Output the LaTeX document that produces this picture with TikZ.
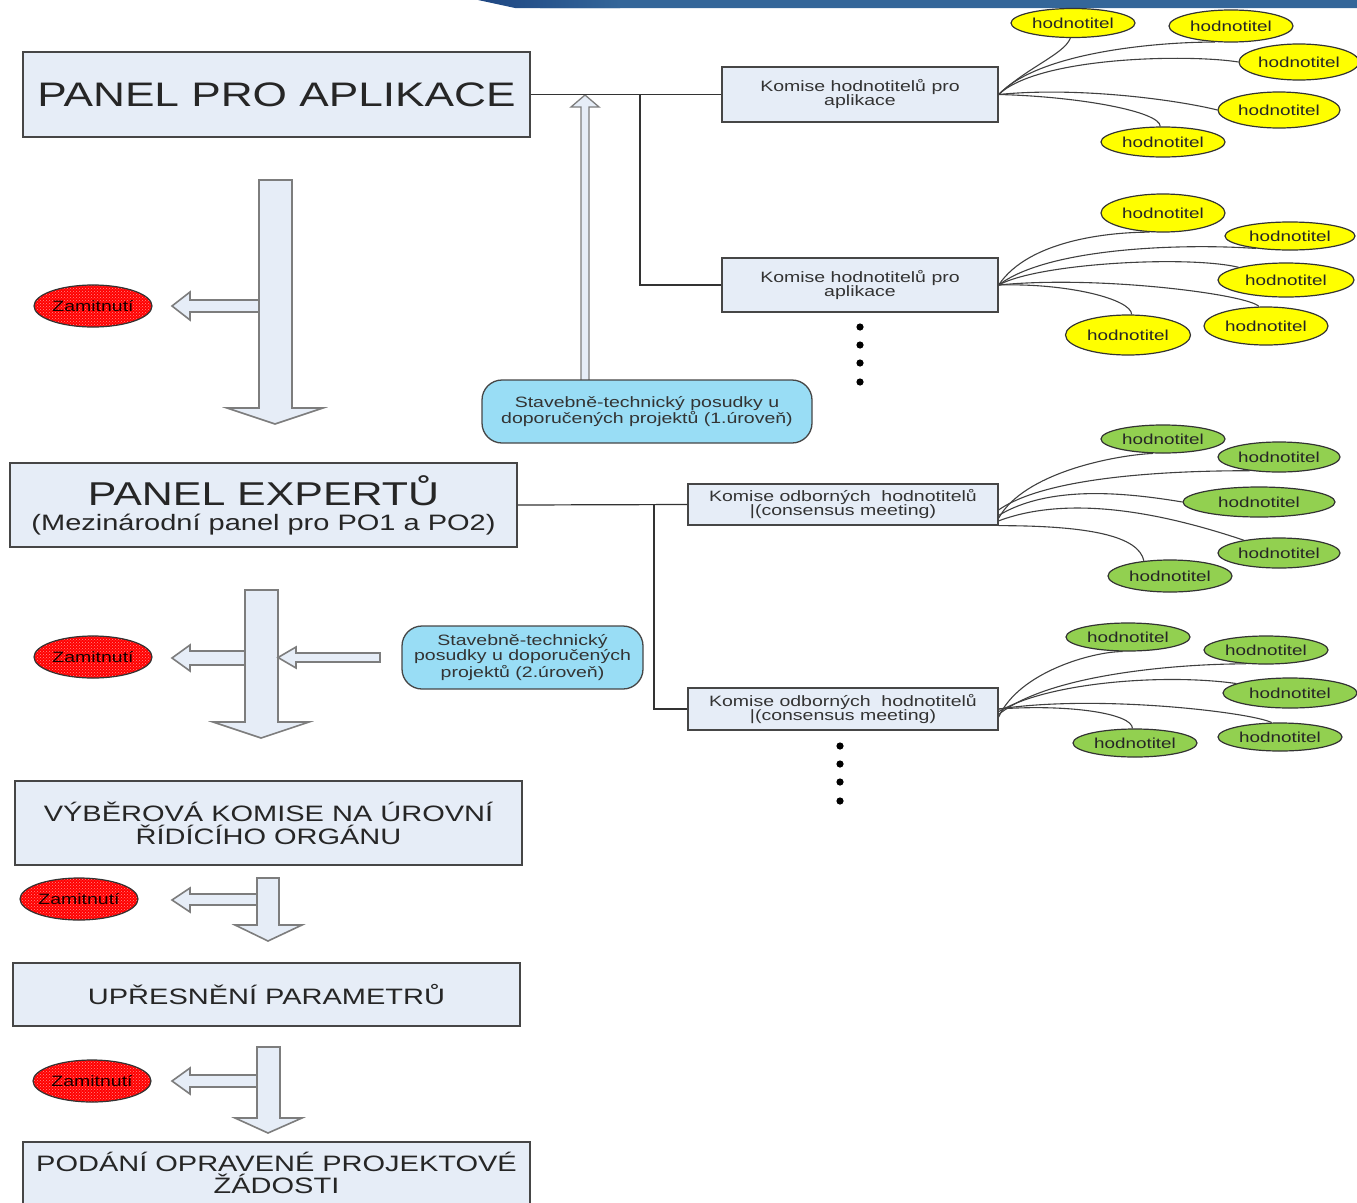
\documentclass[tikz,border=0pt]{standalone}
\usepackage{fontspec}
\setmainfont[FakeStretch=1.3]{Liberation Sans}
\usetikzlibrary{shapes.geometric,patterns}
\definecolor{boxfill}{RGB}{230,237,247}
\definecolor{boxline}{RGB}{70,70,70}
\definecolor{arrline}{RGB}{125,125,125}
\definecolor{lblue}{RGB}{153,221,245}
\definecolor{ygreen}{RGB}{146,208,80}
\definecolor{yyel}{RGB}{255,255,0}
\definecolor{barblue}{RGB}{52,102,153}
\definecolor{bardark}{RGB}{30,70,130}
\begin{document}
\begin{tikzpicture}[x=1pt,y=-1pt,
  panel/.style={draw=boxline, line width=1.5pt, fill=boxfill, inner sep=0pt, align=center, text=black!85},
  bigtxt/.style={font=\fontsize{22.3}{22}\selectfont},
  komise/.style={panel, line width=1.3pt, font=\fontsize{15}{14}\selectfont, text=black!80},
  bluebox/.style={draw=boxline, line width=1.3pt, fill=lblue, rounded corners=20pt, inner sep=0pt, align=center, font=\fontsize{15}{14}\selectfont, text=black!80},
  hod/.style={ellipse, draw=black!80, line width=1.2pt, inner sep=0pt, font=\fontsize{14.5}{14}\selectfont, text=black!85},
  hy/.style={hod, fill=yyel},
  hg/.style={hod, fill=ygreen},
  zam/.style={ellipse, draw=black!80, line width=1.2pt, inner sep=0pt, minimum width=118pt, minimum height=42pt,
    preaction={fill=red}, pattern=crosshatch dots, pattern color=white!55!red, font=\fontsize{15}{14}\selectfont, text=black!90!red},
  blk/.style={fill=boxfill, draw=arrline, line width=1.6pt, line join=miter},
  conn/.style={draw=black!80, line width=1.2pt},
  curve/.style={draw=black!75, line width=1.1pt}
]
\useasboundingbox (0,0) rectangle (1357,1202);

% top bar
\fill[barblue] (505,0) -- (1357,0) -- (1357,8) -- (540,8) -- cycle;
\shade[left color=bardark, right color=barblue] (478,0) -- (620,0) -- (620,8) -- (515,8) -- cycle;

% ---------- block arrows ----------
% level 1
\filldraw[blk] (262,300) -- (190,300) -- (190,292) -- (172,306) -- (190,320) -- (190,312) -- (262,312) -- cycle;
\filldraw[blk] (259,180) -- (292,180) -- (292,408) -- (323,408) -- (275,424) -- (227,408) -- (259,408) -- cycle;
% up arrow
\filldraw[blk, line width=1.3pt] (581,385) -- (581,107) -- (571,107) -- (585,95) -- (599,107) -- (589,107) -- (589,385) -- cycle;
% level 2
\filldraw[blk] (248,651) -- (190,651) -- (190,645) -- (172,658) -- (190,671) -- (190,665) -- (248,665) -- cycle;
\filldraw[blk] (245,590) -- (278,590) -- (278,722) -- (309,722) -- (261,738) -- (213,722) -- (245,722) -- cycle;
\filldraw[blk] (380,653) -- (296,653) -- (296,647) -- (278,657.5) -- (296,668) -- (296,662) -- (380,662) -- cycle;
% level 3
\filldraw[blk] (260,894) -- (190,894) -- (190,888) -- (172,900) -- (190,912) -- (190,905) -- (260,905) -- cycle;
\filldraw[blk] (257,878) -- (279,878) -- (279,925) -- (302,925) -- (268,941) -- (235,925) -- (257,925) -- cycle;
% level 4
\filldraw[blk] (260,1075) -- (190,1075) -- (190,1068) -- (172,1081) -- (190,1094) -- (190,1087) -- (260,1087) -- cycle;
\filldraw[blk] (257,1047) -- (280,1047) -- (280,1118) -- (302,1118) -- (268,1133) -- (235,1118) -- (257,1118) -- cycle;

% ---------- main nodes ----------
\node[panel, minimum width=507pt, minimum height=85pt, font=\fontsize{34}{34}\selectfont] (p1) at (276.5,94.5) {PANEL PRO APLIKACE};
\node[komise, minimum width=276pt, minimum height=55pt] (k1) at (860,94.5) {Komise hodnotitelů pro\\aplikace};
\node[komise, minimum width=276pt, minimum height=54pt] (k2) at (860,285) {Komise hodnotitelů pro\\aplikace};
\node[bluebox, minimum width=330pt, minimum height=63pt] (b1) at (647,411.5) {Stavebně-technický posudky u\\doporučených projektů (1.úroveň)};

\node[panel, minimum width=507pt, minimum height=84pt] (p2) at (263.5,505)
  {\fontsize{33}{33}\selectfont PANEL EXPERTŮ\\[7pt]\fontsize{22.3}{24}\selectfont (Mezinárodní panel pro PO1 a PO2)};
\node[komise, minimum width=310pt, minimum height=41pt] (k3) at (843,504.5) {Komise odborných\ \ hodnotitelů\\|(consensus meeting)};
\node[komise, minimum width=310pt, minimum height=42pt] (k4) at (843,709) {Komise odborných\ \ hodnotitelů\\|(consensus meeting)};
\node[bluebox, minimum width=241pt, minimum height=63pt] (b2) at (522.5,657.5) {Stavebně-technický\\posudky u doporučených\\projektů (2.úroveň)};

\node[panel, bigtxt, minimum width=507pt, minimum height=84pt] (p3) at (268.5,823) {VÝBĚROVÁ KOMISE NA ÚROVNÍ\\[1pt]ŘÍDÍCÍHO ORGÁNU};
\node[panel, bigtxt, minimum width=507pt, minimum height=63pt] (p4) at (266.5,994.5) {UPŘESNĚNÍ PARAMETRŮ};
\node[panel, bigtxt, minimum width=507pt, minimum height=62pt] (p5) at (276.5,1173) {PODÁNÍ OPRAVENÉ PROJEKTOVÉ\\ŽÁDOSTI};

% rejections
\node[zam] (z1) at (93,306) {Zamitnutí};
\node[zam] (z2) at (93,657) {Zamitnutí};
\node[zam] (z3) at (79,899) {Zamitnutí};
\node[zam] (z4) at (92,1081) {Zamitnutí};

% ---------- evaluators ----------
\node[hy, minimum width=124pt, minimum height=29pt] (y11) at (1073,23) {hodnotitel};
\node[hy, minimum width=124pt, minimum height=32pt] (y12) at (1231,26) {hodnotitel};
\node[hy, minimum width=120pt, minimum height=36pt] (y13) at (1299,62) {hodnotitel};
\node[hy, minimum width=122pt, minimum height=36pt] (y14) at (1279,110) {hodnotitel};
\node[hy, minimum width=124pt, minimum height=30pt] (y15) at (1163,142) {hodnotitel};

\node[hy, minimum width=124pt, minimum height=38pt] (y21) at (1163,213) {hodnotitel};
\node[hy, minimum width=130pt, minimum height=28pt] (y22) at (1290,236) {hodnotitel};
\node[hy, minimum width=136pt, minimum height=34pt] (y23) at (1286,280) {hodnotitel};
\node[hy, minimum width=124pt, minimum height=38pt] (y24) at (1266,326) {hodnotitel};
\node[hy, minimum width=125pt, minimum height=40pt] (y25) at (1128,335) {hodnotitel};

\node[hg, minimum width=124pt, minimum height=28pt] (g11) at (1163,439) {hodnotitel};
\node[hg, minimum width=122pt, minimum height=30pt] (g12) at (1279,457) {hodnotitel};
\node[hg, minimum width=152pt, minimum height=30pt] (g13) at (1259,502) {hodnotitel};
\node[hg, minimum width=122pt, minimum height=30pt] (g14) at (1279,553) {hodnotitel};
\node[hg, minimum width=124pt, minimum height=32pt] (g15) at (1170,576) {hodnotitel};

\node[hg, minimum width=124pt, minimum height=28pt] (g21) at (1128,637) {hodnotitel};
\node[hg, minimum width=124pt, minimum height=28pt] (g22) at (1266,650) {hodnotitel};
\node[hg, minimum width=134pt, minimum height=30pt] (g23) at (1290,693) {hodnotitel};
\node[hg, minimum width=124pt, minimum height=28pt] (g24) at (1280,737) {hodnotitel};
\node[hg, minimum width=124pt, minimum height=28pt] (g25) at (1135,743) {hodnotitel};

% ---------- connectors ----------
\coordinate (j1) at (640,94.5);
\coordinate (j2) at (654,505);
\draw[conn] (p1.east) -- (k1.west);
\draw[conn] (j1) |- (k2.west);
\draw[conn] (p2.east) -- (k3.west);
\draw[conn] (j2) |- (k4.west);

% yellow cluster 1
\draw[curve] (k1.east) .. controls +(30,-28) and +(-6,16) .. (y11.260);
\draw[curve] (k1.east) .. controls +(40,-42) and +(-60,0) .. (y12.225);
\draw[curve] (k1.east) .. controls +(40,-38) and +(-50,-8) .. (y13.180);
\draw[curve] (k1.east) .. controls +(80,-8) and +(-40,-10) .. (y14.180);
\draw[curve] (k1.east) .. controls +(80,2) and +(0,-15) .. (y15.100);
% yellow cluster 2
\draw[curve] (k2.east) .. controls +(30,-45) and +(-40,0) .. (y21.235);
\draw[curve] (k2.east) .. controls +(50,-38) and +(-70,-5) .. (y22.200);
\draw[curve] (k2.east) .. controls +(40,-22) and +(-50,-12) .. (y23.165);
\draw[curve] (k2.east) .. controls +(100,-10) and +(-10,-12) .. (y24.110);
\draw[curve] (k2.east) .. controls +(70,-2) and +(0,-15) .. (y25.80);
% green cluster 1
\draw[curve] (k3.-5) .. controls +(25,-45) and +(-40,2) .. (g11.235);
\draw[curve] (k3.-2) .. controls +(50,-35) and +(-70,0) .. (g12.205);
\draw[curve] (k3.-4) .. controls +(50,-30) and +(-60,-10) .. (g13.180);
\draw[curve] (k3.-6) .. controls +(80,-30) and +(-60,-20) .. (g14.160);
\draw[curve] (k3.south east) .. controls +(90,0) and +(-5,-25) .. (g15.150);
% green cluster 2
\draw[curve] (k4.-3) .. controls +(20,-45) and +(-30,0) .. (g21.250);
\draw[curve] (k4.-2) .. controls +(50,-40) and +(-70,0) .. (g22.215);
\draw[curve] (k4.-1) .. controls +(50,-30) and +(-70,-10) .. (g23.170);
\draw[curve] (k4.east) .. controls +(100,-15) and +(-20,-10) .. (g24.120);
\draw[curve] (k4.east) .. controls +(70,-5) and +(0,-15) .. (g25.100);

% continuation dots
\foreach \yy in {327,345,363,382} \fill (860,\yy) circle (3.6);
\foreach \yy in {746,764,782,801} \fill (840,\yy) circle (3.6);
\end{tikzpicture}
\end{document}
